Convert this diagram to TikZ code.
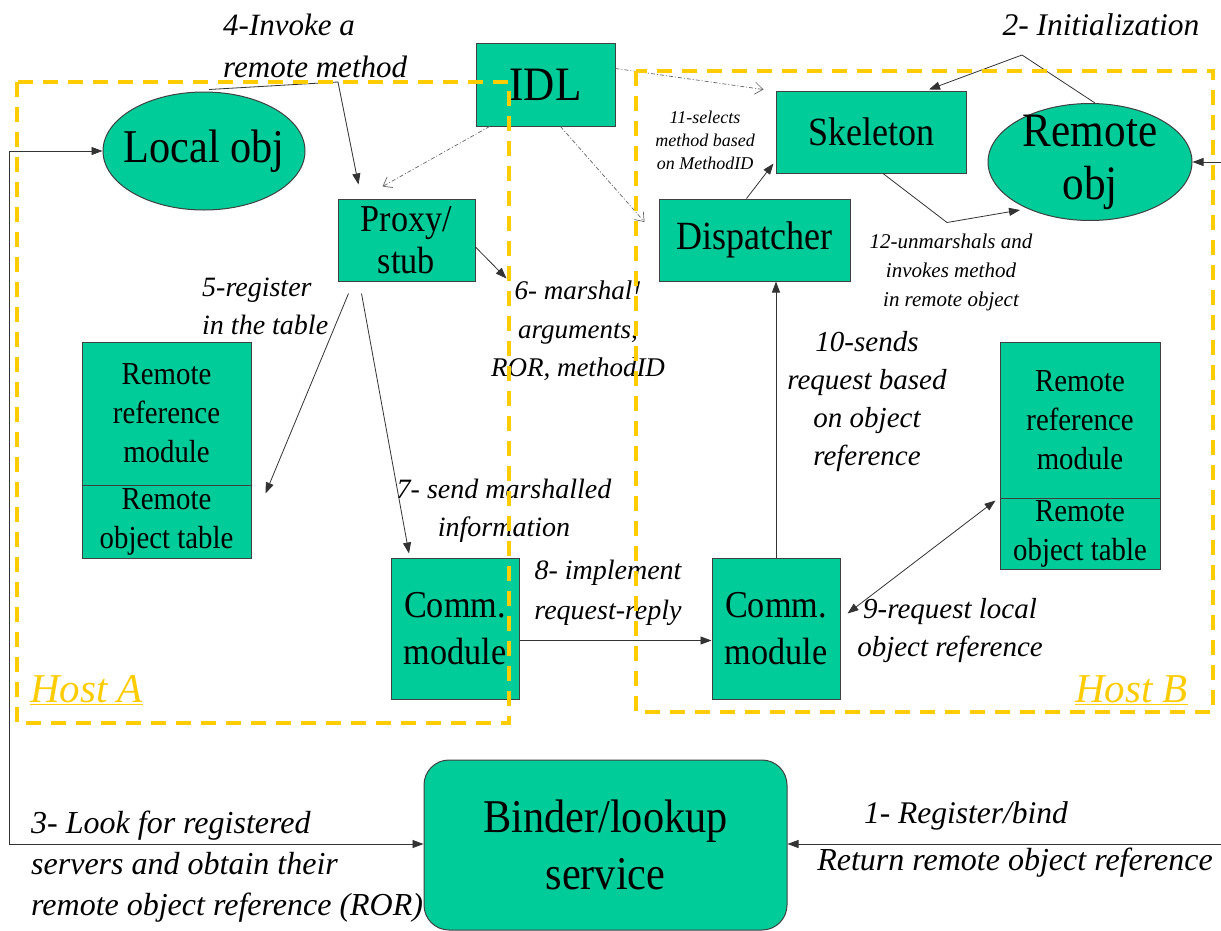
\documentclass[tikz,border=0pt]{standalone}
\usepackage{fontspec}
\setmainfont{Liberation Serif}
\newfontfamily\boxfont[FakeStretch=0.9]{Liberation Serif}
\usetikzlibrary{arrows.meta,calc,shapes.geometric}
\definecolor{boxgreen}{RGB}{0,204,153}
\definecolor{hostyellow}{RGB}{255,204,0}
\newcommand{\fs}[2]{\fontsize{#1}{#2}\selectfont}
\tikzset{
  box/.style={draw=black!75, line width=1pt, fill=boxgreen, inner sep=0pt, align=center},
  oval/.style={box, ellipse, inner xsep=-14pt, inner ysep=-14pt},
  arr/.style={-{Triangle[length=11pt,width=8pt]}, line width=0.8pt, draw=black!80},
  biarr/.style={{Triangle[length=11pt,width=8pt]}-{Triangle[length=11pt,width=8pt]}, line width=0.8pt, draw=black!80},
  idlarr/.style={-{Straight Barb[length=8pt,width=12pt]}, line width=0.7pt, draw=black!60, dash pattern=on 4pt off 2pt on 1pt off 2pt},
  lbl/.style={inner sep=0pt, align=center},
  hostframe/.style={draw=hostyellow, line width=4pt, dash pattern=on 15pt off 10pt},
  hostlbl/.style={inner sep=0pt, anchor=base west, text=hostyellow, font=\fs{41}{48}\itshape}
}
\begin{document}
\begin{tikzpicture}[x=1pt,y=-1pt]
\useasboundingbox[fill=white] (0,0) rectangle (1221,930);

% nodes
\node[box, minimum width=139pt, minimum height=83pt, font=\boxfont\fs{48}{56}] (idl) at (545.5,84.5) {IDL};
\node[oval, minimum width=202pt, minimum height=118pt, font=\boxfont\fs{47}{53}] (lobj) at (204,151) {Local obj};
\node[box, minimum width=137pt, minimum height=82pt, font=\boxfont\fs{38}{42}] (proxy) at (406.5,240) {Proxy/\\stub};
\node[box, minimum width=190pt, minimum height=82pt, font=\boxfont\fs{40}{46}] (skel) at (871,132) {Skeleton};
\node[oval, minimum width=204pt, minimum height=117pt, font=\boxfont\fs{48}{53}] (robj) at (1090,162) {Remote\\obj};
\node[box, minimum width=191pt, minimum height=82pt, font=\boxfont\fs{40}{46}] (disp) at (754.5,240) {Dispatcher};
\node[box, minimum width=169pt, minimum height=143pt, font=\boxfont\fs{32}{39}] (rrmA) at (166.5,413.5) {Remote\\reference\\module};
\node[box, minimum width=169pt, minimum height=73pt, font=\boxfont\fs{32}{39}] (rotA) at (166.5,521.5) {Remote\\object table};
\node[box, minimum width=128pt, minimum height=141pt, font=\boxfont\fs{38}{47}] (commA) at (455,628.5) {Comm.\\module};
\node[box, minimum width=160pt, minimum height=156pt, font=\boxfont\fs{32}{39}] (rrmB) at (1080,420) {Remote\\reference\\module};
\node[box, minimum width=160pt, minimum height=71pt, font=\boxfont\fs{32}{39}] (rotB) at (1080,533.5) {Remote\\object table};
\node[box, minimum width=128pt, minimum height=141pt, font=\boxfont\fs{38}{47}] (commB) at (776,628.5) {Comm.\\module};
\node[box, rounded corners=25pt, minimum width=363pt, minimum height=170pt, font=\boxfont\fs{47}{57}] (binder) at (605.5,845) {Binder/lookup\\service};

% free ends
\coordinate (cL) at (9,151);
\coordinate (eR1) at (1221,162);
\coordinate (eR2) at (1221,844);
\coordinate (inv) at (338,82);
\coordinate (ini) at (1022,55);

% connectors
\draw[biarr] (lobj.west) -- (cL) |- ($(binder.west)+(0,-1)$);
\draw[arr] (eR1) -- (robj.east);
\draw[arr] (eR2) -- ($(binder.east)+(0,-1)$);
\draw[arr] ($(lobj.north)+(5,-2)$) -- (inv) -- ($(proxy.north)+(-48,-14)$);
\draw[idlarr] ($(idl.south west)+(14,0)$) -- ($(proxy.north)+(-24,-12)$);
\draw[idlarr] ($(idl.east)+(0,-16)$) -- ($(skel.north west)+(-12,-1)$);
\draw[idlarr] ($(idl.south)+(15,0)$) -- ($(disp.west)+(-14,-18)$);
\draw[arr] ($(proxy.east)+(0,7)$) -- ($(proxy.south east)+(31,-3)$);
\draw[arr] ($(proxy.south)+(-58,12)$) -- ($(rrmA.south east)+(14,8)$);
\draw[arr] ($(proxy.south)+(-45,12)$) -- ($(commA.north)+(-46,-4)$);
\draw[arr] ($(commA.east)+(0,12)$) -- ($(commB.west)+(0,12)$);
\draw[arr] (commB.north) -- (commB.north |- disp.south);
\draw[biarr] ($(commB.east)+(7,-15)$) -- ($(rrmB.south west)+(-4,2)$);
\draw[arr] ($(disp.north)+(-8,0)$) -- ($(skel.south west)+(-2,-10)$);
\draw[arr] ($(skel.south)+(12,0)$) -- ($(skel.south)+(76,49)$) -- ($(robj.center)+(-70,48)$);
\draw[arr] ($(robj.north)+(5,0)$) -- (ini) -- ($(skel.north)+(58,-1)$);

% labels
\node[lbl, anchor=west, align=left, font=\fs{31}{42}\itshape] (l4) at (223,46) {4-Invoke a\\remote method};
\node[lbl, font=\fs{31.5}{36}\itshape] (l2) at (1101,25) {2- Initialization};
\node[lbl, font=\fs{18}{23}\itshape] (l11) at (705,140) {11-selects\\method based\\on MethodID};
\node[lbl, font=\fs{21}{29}\itshape] (l12) at (951,272) {12-unmarshals and\\invokes method\\in remote object};
\node[lbl, anchor=west, align=left, font=\fs{28}{38}\itshape] (l5) at (202,306) {5-register\\in the table};
\node[lbl, font=\fs{27}{38.5}\itshape] (l6) at (578,331) {6- marshal!\\arguments,\\ROR, methodID};
\node[lbl, font=\fs{28}{38}\itshape] (l7) at (504,511) {7- send marshalled\\information};
\node[lbl, font=\fs{28}{40}\itshape] (l8) at (608,593) {8- implement\\request-reply};
\node[lbl, font=\fs{29}{38}\itshape] (l9) at (950,631) {9-request local\\object reference};
\node[lbl, font=\fs{29}{38}\itshape] (l10) at (867,402) {10-sends\\request based\\on object\\reference};
\node[lbl, anchor=west, align=left, font=\fs{32}{41}\itshape] (l3) at (31,867) {3- Look for registered\\servers and obtain their\\remote object reference (ROR)};
\node[lbl, font=\fs{31.5}{36}\itshape] (l1) at (966,816) {1- Register/bind};
\node[lbl, font=\fs{32}{36}\itshape] (lr) at (1015,863) {Return remote object reference};

% host frames
\draw[hostframe] (17,82) rectangle (509,723);
\draw[hostframe] (636,71) rectangle (1213,712);
\node[hostlbl] (ha) at (30,702) {\underline{Host A}};
\node[hostlbl] (hb) at (1075,702) {\underline{Host B}};
\end{tikzpicture}
\end{document}
